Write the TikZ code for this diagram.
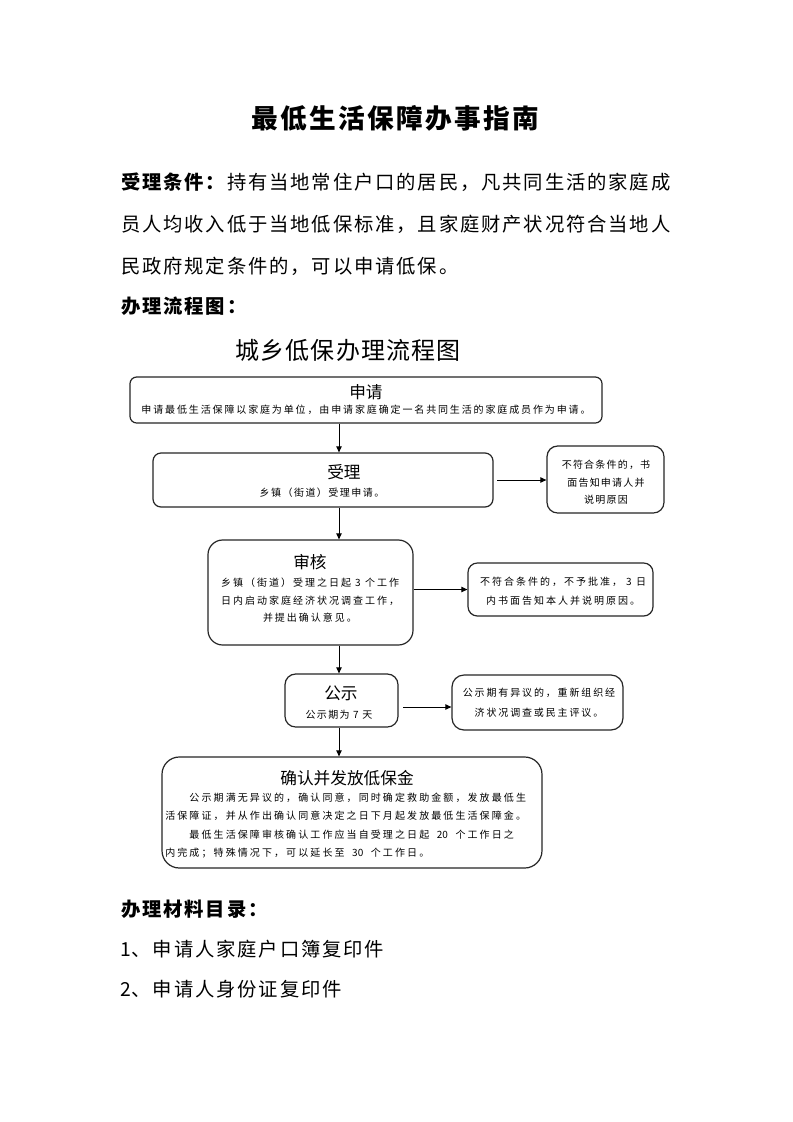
\documentclass[tikz,border=0pt]{standalone}
\usepackage{fontspec}
\setmainfont{Noto Sans CJK SC}
\usetikzlibrary{arrows.meta,fit}
\ExplSyntaxOn
\NewDocumentCommand\fx{mm}{\tl_map_inline:nn{#2}{\makebox[#1]{##1}}}
\ExplSyntaxOff
\tikzset{
  box/.style={draw=black!85, line width=0.9pt, inner sep=0pt, rounded corners=#1},
  box/.default=6pt,
  arr/.style={draw=black, line width=0.75pt, -{Triangle[length=4.5pt,width=4pt]}},
  txt/.style={inner sep=0pt, font=\fontsize{7.5}{13.1}\selectfont},
  ttl/.style={inner sep=0pt, font=\fontsize{12.5}{14}\selectfont},
  body/.style={inner sep=0pt, anchor=west, font=\fontsize{14.5}{16}\selectfont},
  bodyb/.style={inner sep=0pt, anchor=west, font=\fontsize{14.5}{16}\selectfont\bfseries},
}
\begin{document}
\begin{tikzpicture}[x=0.75pt,y=-0.75pt]
\useasboundingbox[fill=white] (0,0) rectangle (793,1122);

% heading and paragraph
\node[inner sep=0pt, font=\fontsize{20}{22}\selectfont\bfseries] (title) at (395,118) {\fx{21.75pt}{最低生活保障办事指南}};
\node[body] (p1) at (120,182) {{\bfseries\fx{15.9pt}{受理条件：}}\fx{15.9pt}{持有当地常住户口的居民，凡共同生活的家庭成}};
\node[body] (p2) at (120,224) {\fx{15.9pt}{员人均收入低于当地低保标准，且家庭财产状况符合当地人}};
\node[body] (p3) at (120,266) {\fx{15.9pt}{民政府规定条件的，可以申请低保。}};
\node[bodyb] (h1) at (120,306) {\fx{15.9pt}{办理流程图：}};

% flowchart title
\node[inner sep=0pt, font=\fontsize{18}{20}\selectfont] (ftitle) at (348,350) {\fx{18.9pt}{城乡低保办理流程图}};

% 申请
\node[box=5pt, fit={(130,377)(602,423)}] (sq) {};
\node[ttl] (sqt) at (366,392) {\fx{12.4pt}{申请}};
\node[txt] (sqs) at (366,410) {\fx{8.9pt}{申请最低生活保障以家庭为单位，由申请家庭确定一名共同生活的家庭成员作为申请。}};

% 受理
\node[box=6pt, fit={(153,453)(493,507)}] (sl) {};
\node[ttl] (slt) at (344,472) {\fx{12.4pt}{受理}};
\node[txt] (sls) at (322,493) {\fx{8.6pt}{乡镇（街道）受理申请。}};

% right box 1
\node[box=8pt, fit={(547,446)(664,513)}] (r1) {};
\node[txt, align=center] (r1t) at (606,482.5) {\fx{8.4pt}{不符合条件的，书}\\\fx{8.4pt}{面告知申请人并}\\\fx{8.4pt}{说明原因}};

% 审核
\node[box=11pt, fit={(208,540)(413,645)}] (sh) {};
\node[ttl] (sht) at (310,562) {\fx{12.4pt}{审核}};
\node[txt, align=center] (shs) at (310,600.5) {\fx{9pt}{乡镇（街道）受理之日起3个工作}\\\fx{9pt}{日内启动家庭经济状况调查工作，}\\\fx{9pt}{并提出确认意见。}};

% right box 2
\node[box=7pt, fit={(468,563)(653,616)}] (r2) {};
\node[txt, align=center, font=\fontsize{7.5}{14.2}\selectfont] (r2t) at (563,591.5) {\fx{9pt}{不符合条件的，不予批准，3日}\\\fx{9pt}{内书面告知本人并说明原因。}};

% 公示
\node[box=8pt, fit={(285,674)(398,727)}] (gs) {};
\node[ttl] (gst) at (341,693) {\fx{12.4pt}{公示}};
\node[txt] (gss) at (339,715) {\fx{8.5pt}{公示期为7天}};

% right box 3
\node[box=9pt, fit={(452,675)(623,730)}] (r3) {};
\node[txt, align=center, font=\fontsize{7.5}{15}\selectfont] (r3t) at (539,703) {\fx{8.9pt}{公示期有异议的，重新组织经}\\\fx{8.9pt}{济状况调查或民主评议。}};

% 确认并发放低保金
\node[box=13pt, fit={(162,757)(542,868)}] (qr) {};
\node[ttl] (qrt) at (347,778) {\fx{12.5pt}{确认并发放低保金}};
\node[txt, align=left, anchor=west, font=\fontsize{7.5}{13.7}\selectfont] (qrs) at (164,825.5)
 {\fx{9.07pt}{　　公示期满无异议的，确认同意，同时确定救助金额，发放最低生}\\
  \fx{9.07pt}{活保障证，并从作出确认同意决定之日下月起发放最低生活保障金。}\\
  \fx{9.07pt}{　　最低生活保障审核确认工作应当自受理之日起}\makebox[18.14pt]{20}\fx{9.07pt}{个工作日之}\\
  \fx{9.07pt}{内完成；特殊情况下，可以延长至}\makebox[18.14pt]{30}\fx{9.07pt}{个工作日。}};

% connectors
\coordinate (ax) at (339,0);
\draw[arr] (sq.south -| ax) -- (sl.north -| ax);
\draw[arr] (sl.south -| ax) -- (sh.north -| ax);
\draw[arr] (sh.south -| ax) -- (gs.north -| ax);
\draw[arr] (gs.south -| ax) -- (qr.north -| ax);
\coordinate (c1) at (497,480);
\draw[arr] (c1) -- (c1 -| r1.west);
\draw[arr] (sh.east |- r2.west) -- (r2.west);
\coordinate (c3) at (403,707);
\draw[arr] (c3) -- (c3 -| r3.west);

% materials list
\node[bodyb] (h2) at (120,909) {\fx{15.9pt}{办理材料目录：}};
\node[body] (l1) at (120,949) {\makebox[7.95pt]{1}\fx{15.9pt}{、申请人家庭户口簿复印件}};
\node[body] (l2) at (120,989) {\makebox[7.95pt]{2}\fx{15.9pt}{、申请人身份证复印件}};
\end{tikzpicture}
\end{document}
